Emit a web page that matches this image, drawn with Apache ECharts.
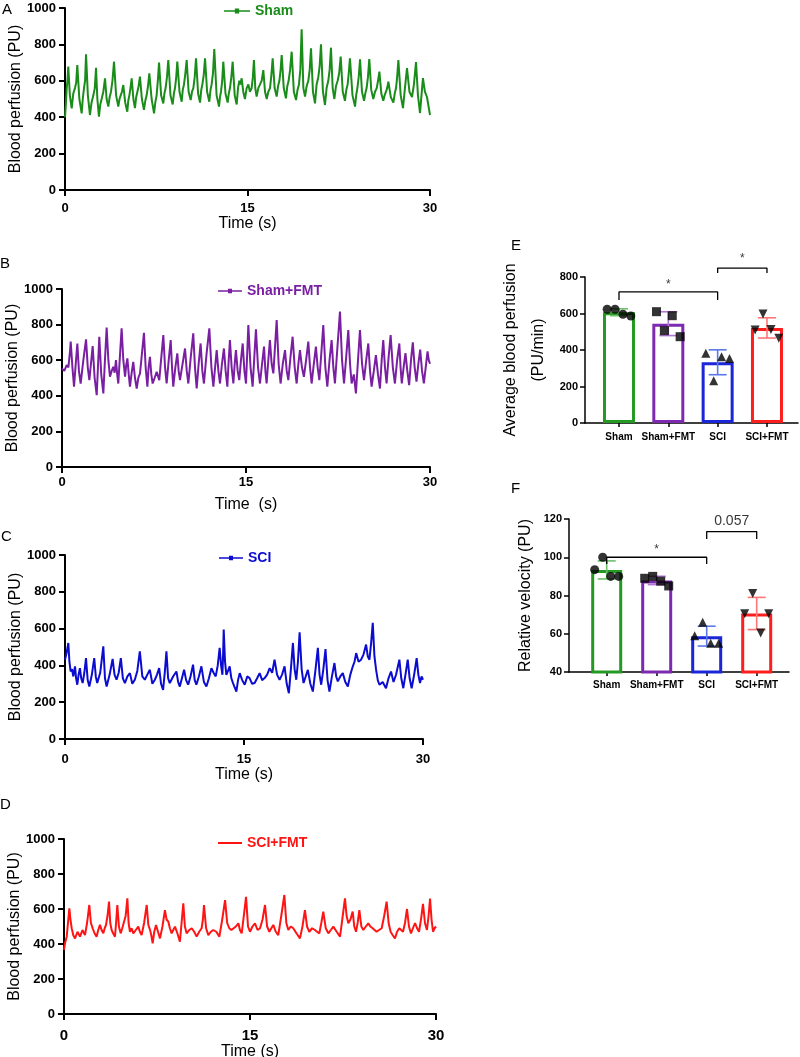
<!DOCTYPE html>
<html>
<head>
<meta charset="utf-8">
<script src="https://cdn.jsdelivr.net/npm/echarts@6/dist/echarts.min.js"></script>
<style>
html, body { margin: 0; padding: 0; background: #fff; }
#chart { width: 800px; height: 1057px; }
</style>
</head>
<body>
<div id="chart"></div>
<script>
// laser doppler traces, [time (s), perfusion (PU)]
var shamTrace = [[0,400],[0.07,470],[0.14,560],[0.20,600],[0.27,678],[0.40,520],[0.55,449],[0.68,530],[0.82,560],[0.92,590],[1.01,687],[1.18,500],[1.37,421],[1.46,500],[1.56,560],[1.65,600],[1.73,745],[1.88,520],[2.05,412],[2.18,480],[2.33,520],[2.45,560],[2.55,672],[2.66,500],[2.79,403],[2.90,470],[3.01,500],[3.15,540],[3.29,614],[3.42,500],[3.56,458],[3.67,510],[3.78,540],[3.90,600],[4.03,705],[4.20,520],[4.38,458],[4.48,500],[4.58,520],[4.68,540],[4.79,577],[4.95,480],[5.12,430],[5.20,490],[5.29,520],[5.38,560],[5.48,614],[5.62,500],[5.75,450],[5.85,510],[5.95,540],[6.05,570],[6.16,623],[6.32,500],[6.49,440],[6.60,490],[6.71,520],[6.82,570],[6.93,641],[7.12,500],[7.32,421],[7.42,480],[7.53,520],[7.63,600],[7.73,700],[7.90,520],[8.08,476],[8.17,530],[8.27,560],[8.38,620],[8.49,714],[8.67,520],[8.85,470],[8.95,530],[9.04,560],[9.13,610],[9.23,705],[9.41,540],[9.59,485],[9.68,550],[9.78,580],[9.89,640],[10.0,714],[10.16,540],[10.33,494],[10.44,540],[10.55,560],[10.66,620],[10.77,723],[10.94,530],[11.10,480],[11.20,550],[11.29,580],[11.40,630],[11.51,723],[11.68,540],[11.86,485],[11.96,550],[12.05,580],[12.16,640],[12.27,775],[12.46,520],[12.66,458],[12.74,510],[12.82,540],[12.92,600],[13.01,705],[13.19,530],[13.37,480],[13.46,530],[13.56,560],[13.67,620],[13.78,705],[13.95,520],[14.11,470],[14.22,560],[14.33,600],[14.42,580],[14.52,614],[14.65,540],[14.79,500],[14.93,560],[15.07,580],[15.20,540],[15.34,560],[15.44,620],[15.53,714],[15.64,560],[15.75,513],[15.89,560],[16.03,580],[16.16,600],[16.30,659],[16.44,540],[16.58,500],[16.71,540],[16.85,560],[16.96,630],[17.07,723],[17.23,560],[17.40,513],[17.51,570],[17.62,600],[17.72,660],[17.81,742],[17.98,560],[18.16,504],[18.27,570],[18.38,600],[18.50,660],[18.63,760],[18.81,540],[18.99,494],[19.11,550],[19.23,580],[19.34,660],[19.45,883],[19.59,560],[19.73,513],[19.86,570],[20.0,600],[20.11,660],[20.22,778],[20.38,540],[20.55,476],[20.68,580],[20.82,620],[20.93,680],[21.04,800],[21.20,540],[21.37,467],[21.50,560],[21.64,600],[21.75,660],[21.86,782],[22.00,560],[22.14,500],[22.27,570],[22.41,600],[22.53,640],[22.66,733],[22.83,540],[23.01,490],[23.12,550],[23.23,580],[23.32,640],[23.42,723],[23.63,520],[23.84,458],[23.93,520],[24.03,560],[24.14,620],[24.25,718],[24.41,540],[24.58,490],[24.68,530],[24.79,560],[24.90,620],[25.01,720],[25.17,550],[25.34,500],[25.48,540],[25.62,560],[25.73,600],[25.84,650],[26.00,530],[26.16,490],[26.27,520],[26.38,540],[26.48,560],[26.58,595],[26.78,510],[26.99,480],[27.10,530],[27.21,560],[27.30,620],[27.40,714],[27.59,520],[27.78,450],[27.94,560],[28.11,670],[28.31,540],[28.52,511],[28.68,580],[28.85,703],[29.01,520],[29.18,423],[29.30,520],[29.42,615],[29.58,540],[29.75,511],[29.88,460],[30,412]];

var shamFmtTrace = [[0,554],[0.19,540],[0.38,572],[0.52,560],[0.65,647],[0.71,704],[0.85,560],[0.98,451],[1.12,580],[1.25,694],[1.38,540],[1.52,469],[1.74,600],[1.96,717],[2.10,560],[2.23,488],[2.36,580],[2.50,679],[2.66,500],[2.83,404],[2.93,560],[3.04,732],[3.20,520],[3.37,413],[3.50,600],[3.64,784],[3.78,600],[3.91,507],[4.05,540],[4.18,563],[4.29,530],[4.40,601],[4.50,520],[4.59,469],[4.72,620],[4.86,779],[5.00,600],[5.14,507],[5.23,570],[5.33,610],[5.44,520],[5.54,451],[5.68,530],[5.81,591],[5.95,500],[6.09,441],[6.22,500],[6.36,526],[6.52,640],[6.68,754],[6.82,560],[6.96,451],[7.06,560],[7.17,619],[7.28,520],[7.39,469],[7.55,500],[7.72,535],[7.83,510],[7.93,488],[8.10,620],[8.26,741],[8.40,560],[8.53,469],[8.70,600],[8.86,713],[8.97,560],[9.07,451],[9.24,560],[9.40,638],[9.51,540],[9.62,488],[9.83,580],[10.03,666],[10.17,540],[10.30,469],[10.50,620],[10.70,751],[10.84,560],[10.98,441],[11.14,580],[11.30,694],[11.44,540],[11.57,469],[11.79,640],[12.01,779],[12.18,560],[12.34,451],[12.48,560],[12.61,657],[12.75,540],[12.88,469],[13.04,580],[13.20,666],[13.34,540],[13.48,451],[13.59,600],[13.69,713],[13.83,560],[13.97,469],[14.08,580],[14.18,657],[14.32,540],[14.45,488],[14.59,600],[14.73,694],[14.87,540],[15.00,469],[15.10,640],[15.19,798],[15.37,560],[15.54,451],[15.68,620],[15.81,773],[15.98,560],[16.14,469],[16.31,580],[16.47,676],[16.58,540],[16.68,469],[16.82,600],[16.95,713],[17.09,580],[17.23,526],[17.37,680],[17.50,826],[17.66,580],[17.82,469],[18.00,580],[18.18,657],[18.32,540],[18.45,488],[18.63,620],[18.80,732],[18.97,560],[19.13,469],[19.27,580],[19.40,657],[19.56,560],[19.72,507],[19.90,600],[20.08,704],[20.22,560],[20.35,469],[20.53,580],[20.70,676],[20.84,560],[20.98,488],[21.14,640],[21.30,798],[21.47,560],[21.63,451],[21.81,600],[21.98,713],[22.12,560],[22.25,469],[22.46,680],[22.66,873],[22.83,600],[22.99,469],[23.17,620],[23.34,769],[23.48,580],[23.61,469],[23.79,520],[23.96,413],[24.13,600],[24.29,769],[24.46,580],[24.62,488],[24.80,600],[24.97,694],[25.11,540],[25.24,451],[25.42,540],[25.59,629],[25.76,520],[25.92,441],[26.06,600],[26.19,713],[26.33,560],[26.46,469],[26.63,620],[26.79,741],[26.97,560],[27.14,469],[27.32,600],[27.50,694],[27.60,560],[27.70,470],[27.85,560],[28.0,640],[28.15,540],[28.3,460],[28.45,600],[28.6,700],[28.75,560],[28.9,480],[29.05,580],[29.2,660],[29.35,540],[29.5,470],[29.65,560],[29.8,650],[29.9,600],[30,580]];

var sciTrace = [[0,431],[0.14,470],[0.28,522],[0.37,420],[0.47,367],[0.58,380],[0.70,340],[0.77,370],[0.84,395],[0.93,330],[1.03,295],[1.14,350],[1.25,385],[1.36,330],[1.48,304],[1.62,360],[1.76,440],[1.90,320],[2.04,285],[2.25,350],[2.45,440],[2.58,340],[2.70,304],[2.95,360],[3.21,504],[3.35,330],[3.49,285],[3.74,350],[3.99,435],[4.15,350],[4.32,322],[4.50,360],[4.68,440],[4.85,330],[5.02,304],[5.23,340],[5.44,358],[5.64,300],[5.85,322],[6.06,370],[6.27,476],[6.48,340],[6.69,322],[6.90,350],[7.11,376],[7.32,300],[7.53,322],[7.71,350],[7.89,385],[8.05,300],[8.22,267],[8.36,360],[8.50,476],[8.64,330],[8.78,304],[9.06,340],[9.34,367],[9.48,310],[9.62,285],[9.80,330],[9.98,376],[10.15,320],[10.32,295],[10.52,340],[10.73,404],[10.87,320],[11.01,295],[11.22,340],[11.43,395],[11.64,310],[11.85,285],[12.06,330],[12.27,385],[12.45,360],[12.63,340],[12.80,400],[12.96,495],[13.08,400],[13.19,349],[13.25,460],[13.30,595],[13.41,420],[13.52,349],[13.66,370],[13.80,395],[13.94,330],[14.08,304],[14.22,280],[14.36,258],[14.50,320],[14.64,358],[14.85,320],[15.06,295],[15.27,340],[15.47,331],[15.68,300],[15.89,304],[16.10,330],[16.31,358],[16.52,320],[16.73,331],[16.94,350],[17.15,385],[17.36,360],[17.56,431],[17.77,350],[17.98,322],[18.19,350],[18.40,395],[18.58,300],[18.76,249],[18.93,380],[19.10,522],[19.24,380],[19.38,322],[19.52,420],[19.66,580],[19.83,380],[19.99,304],[20.17,340],[20.35,376],[20.56,300],[20.77,258],[20.98,370],[21.19,495],[21.33,350],[21.47,295],[21.65,380],[21.83,489],[22.00,320],[22.16,258],[22.37,340],[22.58,413],[22.72,340],[22.86,313],[23.07,340],[23.28,358],[23.49,310],[23.70,285],[23.91,350],[24.12,395],[24.26,420],[24.40,467],[24.60,420],[24.81,431],[25.02,460],[25.23,513],[25.37,450],[25.51,431],[25.65,520],[25.79,631],[25.93,450],[26.07,376],[26.21,320],[26.35,295],[26.62,310],[26.90,276],[27.11,330],[27.32,367],[27.53,310],[27.74,349],[27.88,390],[28.02,431],[28.18,330],[28.35,276],[28.53,350],[28.72,431],[28.88,330],[29.05,276],[29.26,350],[29.47,440],[29.61,350],[29.75,304],[29.88,340],[30,322]];

var sciFmtTrace = [[0,366],[0.08,404],[0.22,442],[0.32,520],[0.43,604],[0.52,540],[0.62,490],[0.75,450],[0.89,432],[1.09,470],[1.29,442],[1.49,480],[1.69,451],[1.86,520],[2.04,623],[2.17,520],[2.31,490],[2.47,460],[2.63,442],[2.76,480],[2.90,509],[3.03,480],[3.17,461],[3.28,490],[3.39,509],[3.51,560],[3.63,642],[3.73,520],[3.84,480],[3.97,460],[4.11,442],[4.20,520],[4.30,623],[4.43,500],[4.57,461],[4.70,490],[4.84,480],[4.97,560],[5.11,661],[5.21,520],[5.32,470],[5.45,490],[5.59,461],[5.79,480],[5.99,499],[6.12,470],[6.26,451],[6.46,520],[6.67,623],[6.80,510],[6.94,480],[7.04,450],[7.15,404],[7.28,470],[7.42,509],[7.58,470],[7.74,432],[7.94,500],[8.14,594],[8.27,540],[8.41,528],[8.54,490],[8.68,461],[8.81,480],[8.95,499],[9.15,460],[9.35,413],[9.48,520],[9.62,632],[9.75,500],[9.89,461],[10.10,480],[10.30,490],[10.50,470],[10.70,442],[10.90,470],[11.10,490],[11.20,540],[11.29,623],[11.46,490],[11.64,451],[11.84,470],[12.04,480],[12.28,470],[12.53,442],[12.76,540],[12.99,651],[13.16,520],[13.33,490],[13.50,480],[13.66,470],[13.86,500],[14.06,518],[14.19,480],[14.33,461],[14.50,560],[14.68,670],[14.84,500],[15.0,470],[15.20,500],[15.40,518],[15.61,480],[15.81,490],[16.01,540],[16.21,623],[16.38,500],[16.56,470],[16.72,490],[16.88,509],[17.08,470],[17.28,451],[17.52,560],[17.77,680],[17.93,520],[18.09,480],[18.29,500],[18.49,490],[18.76,460],[19.03,432],[19.23,500],[19.43,594],[19.60,500],[19.78,470],[20.01,490],[20.24,480],[20.41,470],[20.59,461],[20.75,520],[20.91,585],[21.11,490],[21.32,461],[21.52,480],[21.72,499],[21.99,470],[22.26,442],[22.46,550],[22.66,661],[22.79,560],[22.93,518],[23.10,540],[23.28,585],[23.41,500],[23.55,470],[23.68,520],[23.82,594],[23.98,500],[24.14,480],[24.34,500],[24.54,518],[24.71,500],[24.89,490],[25.05,480],[25.21,470],[25.41,480],[25.62,490],[25.82,560],[26.02,642],[26.18,520],[26.34,470],[26.51,450],[26.69,432],[26.86,470],[27.04,490],[27.19,480],[27.34,470],[27.50,520],[27.66,600],[27.82,500],[27.98,460],[28.14,490],[28.31,520],[28.47,490],[28.63,470],[28.79,540],[28.95,630],[29.11,520],[29.27,480],[29.40,560],[29.52,660],[29.64,540],[29.76,470],[29.88,490],[30,500]];

// group summaries (individual animals, left to right within each group)
var groups = ['Sham', 'Sham+FMT', 'SCI', 'SCI+FMT'];
var perfusionPoints = [[623, 623, 596, 586], [610, 506, 588, 473], [382, 232, 363, 354], [510, 597, 513, 464]];
var velocityPoints = [[93.5, 100, 90, 90], [89, 90, 87.5, 85], [59, 66, 55, 55], [70.5, 81, 60.4, 70.5]];

// significance brackets: from group, to group, top, drop, label, label y
var perfusionSig = [[1, 3, 718, 44, '*', 758], [3, 4, 849, 27, '*', 900]];
var velocitySig = [[1, 3, 100, 3.5, '*', 104], [3, 4, 113.4, 3.9, '0.057', 118.7]];

var font = 'Arial, "Liberation Sans", sans-serif';
var traceColors = ['#1a8c1a', '#7b1fa2', '#0c0cd0', '#ff1414'];
var barColors = ['#249a24', '#7d2ab0', '#1a26d8', '#ff1e1e'];
var errColors = ['#6cc06c', '#b376d6', '#5a78ea', '#ff7676'];
var symbols = ['circle', 'rect', 'triangle', 'triangle'];
var jitter = [-0.24, -0.08, 0.08, 0.24];

function mean(a) { return a.reduce(function (s, v) { return s + v; }, 0) / a.length; }
function sd(a) {
    var m = mean(a);
    return Math.sqrt(a.reduce(function (s, v) { return s + (v - m) * (v - m); }, 0) / (a.length - 1));
}
function plain(v) { return String(v); }

var chart = echarts.init(document.getElementById('chart'));

var traces = [shamTrace, shamFmtTrace, sciTrace, sciFmtTrace];
var traceGrids = [
    { left: 65, right: 370, top: 8, bottom: 867 },
    { left: 62, right: 370, top: 289, bottom: 590 },
    { left: 65, right: 377, top: 555, bottom: 318 },
    { left: 64, right: 364, top: 839, bottom: 43 }
];
var timeNames = ['Time (s)', 'Time  (s)', 'Time (s)', 'Time (s)'];
var labelMargin = [12, 9, 14, 14];
var labelSize = [13, 13, 13, 15];
var nameGap = [25, 30, 26, 24];
var legendPos = [[224, 4, 26], [218, 284, 24], [219, 551, 24], [218, 836, 24]];
var dotLine = 'path://M0,3h10v-1.5h4v1.5h10v1.5h-10v1.5h-4v-1.5h-10z';

var grid = [], xAxis = [], yAxis = [], series = [], legend = [];

traces.forEach(function (tr, k) {
    var g = traceGrids[k];
    g.outerBoundsMode = 'none';
    grid.push(g);
    xAxis.push({
        type: 'value', gridIndex: k, min: 0, max: 30, interval: 15,
        name: timeNames[k], nameLocation: 'middle', nameGap: nameGap[k],
        nameTextStyle: { fontSize: 16, color: '#000', fontFamily: font },
        axisLine: { lineStyle: { color: '#000', width: 2 } },
        axisTick: { length: 6, lineStyle: { color: '#000', width: 2 } },
        axisLabel: { color: '#000', fontWeight: 'bold', fontSize: labelSize[k], margin: labelMargin[k], fontFamily: font, formatter: plain },
        splitLine: { show: false }
    });
    yAxis.push({
        type: 'value', gridIndex: k, min: 0, max: 1000, interval: 200,
        name: 'Blood perfusion (PU)', nameLocation: 'middle', nameGap: 41,
        nameTextStyle: { fontSize: 16, color: '#000', fontFamily: font },
        axisLine: { show: true, lineStyle: { color: '#000', width: 2 } },
        axisTick: { show: true, length: 6, lineStyle: { color: '#000', width: 2 } },
        axisLabel: { color: '#000', fontWeight: 'bold', fontSize: 13, margin: 9, fontFamily: font, formatter: plain },
        splitLine: { show: false }
    });
    series.push({
        name: groups[k], type: 'line', xAxisIndex: k, yAxisIndex: k,
        data: tr, showSymbol: false, symbol: 'none', sampling: 'none',
        lineStyle: { color: traceColors[k], width: 2 },
        itemStyle: { color: traceColors[k] }
    });
    legend.push({
        left: legendPos[k][0], top: legendPos[k][1], padding: 0,
        itemWidth: legendPos[k][2], itemHeight: k === 3 ? 2 : 6,
        icon: k === 3 ? 'rect' : dotLine, selectedMode: false,
        data: [{ name: groups[k], textStyle: { color: traceColors[k] } }],
        textStyle: { fontSize: 14, fontWeight: 'bold', fontFamily: font }
    });
});

// summary panels E (perfusion) and F (velocity)
var summaries = [
    { pts: perfusionPoints, sig: perfusionSig, grid: { left: 585, right: 2, top: 277, bottom: 634 },
      xmin: 0.311, xmax: 4.629, ymin: 0, ymax: 800, step: 200, barW: 32, labelMargin: 9,
      name: 'Average blood perfusion\n(PU/min)', gap: 32, sigSize: [12, 12] },
    { pts: velocityPoints, sig: velocitySig, grid: { left: 569, right: 11, top: 519, bottom: 385 },
      xmin: 0.246, xmax: 4.646, ymin: 40, ymax: 120, step: 20, barW: 31, labelMargin: 8,
      name: 'Relative velocity (PU)', gap: 25, sigSize: [12, 14] }
];

summaries.forEach(function (s, j) {
    var k = 4 + j;
    s.grid.outerBoundsMode = 'none';
    grid.push(s.grid);
    xAxis.push({
        type: 'value', gridIndex: k, min: s.xmin, max: s.xmax,
        axisLine: { lineStyle: { color: '#000', width: 1.5 } },
        axisTick: { show: true, length: 4, customValues: [1, 2, 3, 4], lineStyle: { color: '#000', width: 1.5 } },
        axisLabel: {
            customValues: [1, 2, 3, 4], color: '#000', fontWeight: 'bold', fontSize: 10,
            margin: s.labelMargin, fontFamily: font,
            formatter: function (v) { return groups[Math.round(v) - 1]; }
        },
        splitLine: { show: false }
    });
    yAxis.push({
        type: 'value', gridIndex: k, min: s.ymin, max: s.ymax, interval: s.step,
        name: s.name, nameLocation: 'middle', nameGap: s.gap,
        nameTextStyle: { fontSize: 16, lineHeight: 28, color: '#000', fontFamily: font },
        axisLine: { show: true, lineStyle: { color: '#000', width: 1.5 } },
        axisTick: { show: true, length: 5, lineStyle: { color: '#000', width: 1.5 } },
        axisLabel: { color: '#000', fontWeight: 'bold', fontSize: 11, margin: 7, fontFamily: font, formatter: plain },
        splitLine: { show: false }
    });
    series.push({
        type: 'bar', xAxisIndex: k, yAxisIndex: k, barWidth: s.barW, z: 2,
        data: s.pts.map(function (p, i) {
            return { value: [i + 1, mean(p)], itemStyle: { color: 'rgba(255,255,255,0)', borderColor: barColors[i], borderWidth: 3 } };
        })
    });
    series.push({
        type: 'custom', xAxisIndex: k, yAxisIndex: k, z: 3,
        data: s.pts.map(function (p, i) {
            return { value: [i + 1, mean(p), sd(p)], itemStyle: { color: errColors[i] } };
        }),
        renderItem: function (params, api) {
            var x = api.value(0), m = api.value(1), e = api.value(2);
            var hi = api.coord([x, m + e]), lo = api.coord([x, m - e]);
            var st = { stroke: api.visual('color'), lineWidth: 1.6 };
            return {
                type: 'group', children: [
                    { type: 'line', shape: { x1: hi[0], y1: hi[1], x2: lo[0], y2: lo[1] }, style: st },
                    { type: 'line', shape: { x1: hi[0] - 9, y1: hi[1], x2: hi[0] + 9, y2: hi[1] }, style: st },
                    { type: 'line', shape: { x1: lo[0] - 9, y1: lo[1], x2: lo[0] + 9, y2: lo[1] }, style: st }
                ]
            };
        }
    });
    var pts = [];
    s.pts.forEach(function (p, i) {
        p.forEach(function (v, n) {
            pts.push({ value: [i + 1 + jitter[n], v], symbol: symbols[i], symbolRotate: i === 3 ? 180 : 0 });
        });
    });
    series.push({
        type: 'scatter', xAxisIndex: k, yAxisIndex: k, z: 4, symbolSize: 9,
        itemStyle: { color: '#000' }, data: pts
    });
    s.sig.forEach(function (b) {
        series.push({
            type: 'line', xAxisIndex: k, yAxisIndex: k, clip: false, symbol: 'none', z: 5,
            lineStyle: { color: '#000', width: 1.3 },
            data: [[b[0], b[2] - b[3]], [b[0], b[2]], [b[1], b[2]], [b[1], b[2] - b[3]]]
        });
        series.push({
            type: 'scatter', xAxisIndex: k, yAxisIndex: k, clip: false, symbolSize: 0, z: 5,
            data: [{ value: [(b[0] + b[1]) / 2, b[5]] }],
            label: { show: true, position: 'inside', formatter: b[4], color: '#000', fontSize: b[4] === '*' ? s.sigSize[0] : s.sigSize[1], fontFamily: font }
        });
    });
});

var letters = [['A', 2, 2], ['B', 0, 256], ['C', 1, 529], ['D', 0, 797], ['E', 511, 238], ['F', 511, 481]];

var option = {
    backgroundColor: '#fff',
    animation: false,
    grid: grid,
    xAxis: xAxis,
    yAxis: yAxis,
    legend: legend,
    series: series,
    graphic: letters.map(function (l) {
        return { type: 'text', left: l[1], top: l[2], style: { text: l[0], font: '15px ' + font, fill: '#000' } };
    })
};
chart.setOption(option);
</script>
</body>
</html>
